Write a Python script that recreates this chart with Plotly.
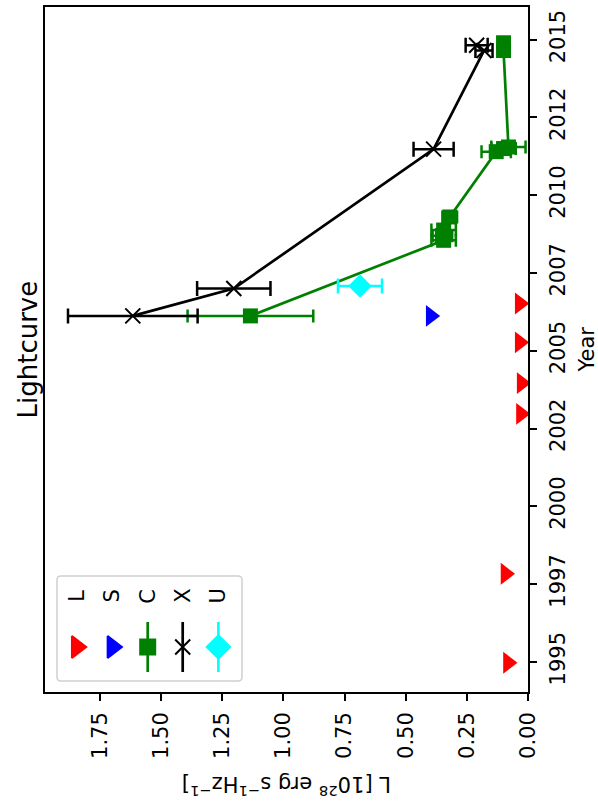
import plotly.graph_objects as go

# ---------------- data ----------------
L_year = [1994.97, 1997.83, 2002.97, 2003.96, 2005.27, 2006.52]
L_val = [0.082, 0.092, 0.029, 0.026, 0.034, 0.034]

S_year = [2006.12]
S_val = [0.398]

C_year = [2006.12, 2008.55, 2008.7, 2008.88, 2009.3, 2011.4, 2011.5, 2011.55, 2014.65, 2014.9]
C_val = [1.135, 0.345, 0.35, 0.345, 0.32, 0.13, 0.10, 0.08, 0.10, 0.10]
C_err = [0.257, 0.05, 0.04, 0.05, 0.03, 0.06, 0.05, 0.07, 0.01, 0.01]

X_year = [2006.12, 2007.0, 2011.48, 2014.65, 2014.82]
X_val = [1.616, 1.203, 0.386, 0.18, 0.21]
X_err = [0.265, 0.15, 0.082, 0.035, 0.045]

U_year = [2007.08]
U_val = [0.687]
U_err = [0.09]

year_ticks = [1995, 1997.5, 2000, 2002.5, 2005, 2007.5, 2010, 2012.5, 2015]
year_labels = ["1995", "1997", "2000", "2002", "2005", "2007", "2010", "2012", "2015"]
L_ticks = [0, 0.25, 0.5, 0.75, 1.0, 1.25, 1.5, 1.75]

legend_names = ["L", "S", "C", "X", "U"]

# ---------------- style ----------------
FONT = "DejaVu Sans"
FS = 21
RED, BLUE, GREEN, BLACK, CYAN = "#ff0000", "#0000ff", "#008000", "#000000", "#00ffff"
LW = 2.7
TRI = 19

fig = go.Figure()

fig.add_trace(go.Scatter(x=L_val, y=L_year, mode="markers",
                         marker=dict(symbol="triangle-right", size=TRI, color=RED),
                         showlegend=False))
fig.add_trace(go.Scatter(x=S_val, y=S_year, mode="markers",
                         marker=dict(symbol="triangle-right", size=TRI, color=BLUE),
                         showlegend=False))
fig.add_trace(go.Scatter(x=C_val, y=C_year, mode="lines+markers",
                         line=dict(color=GREEN, width=LW),
                         marker=dict(symbol="square", size=15, color=GREEN),
                         error_x=dict(type="data", array=C_err, color=GREEN, thickness=2.5, width=6.5),
                         showlegend=False))
fig.add_trace(go.Scatter(x=X_val, y=X_year, mode="lines+markers",
                         line=dict(color=BLACK, width=LW),
                         marker=dict(symbol="x-thin", size=15, color=BLACK,
                                     line=dict(color=BLACK, width=2)),
                         error_x=dict(type="data", array=X_err, color=BLACK, thickness=2.5, width=7.5),
                         showlegend=False))
fig.add_trace(go.Scatter(x=U_val, y=U_year, mode="lines+markers",
                         line=dict(color=CYAN, width=LW),
                         marker=dict(symbol="diamond", size=18, color=CYAN),
                         error_x=dict(type="data", array=U_err, color=CYAN, thickness=2.5, width=7.5),
                         showlegend=False))

# ---------------- hand-built rotated legend (overlay axes, 0..1) ----------------
plot_l, plot_r, plot_t, plot_b = 45, 528, 7, 692
pw, ph = plot_r - plot_l, plot_b - plot_t


def fx(px):
    return (px - plot_l) / pw


def fy(py):
    return (plot_b - py) / ph


leg_cols = [76.7, 112.4, 147.7, 182.7, 218.4]
leg_mark_y = 647
leg_line_top, leg_line_bot = 622, 672
leg_text_y = 596
leg_styles = [
    dict(symbol="triangle-right", size=TRI, color=RED, line=False),
    dict(symbol="triangle-right", size=TRI, color=BLUE, line=False),
    dict(symbol="square", size=15, color=GREEN, line=True),
    dict(symbol="x-thin", size=15, color=BLACK, line=True),
    dict(symbol="diamond", size=18, color=CYAN, line=True),
]
for cx, st in zip(leg_cols, leg_styles):
    if st["line"]:
        fig.add_trace(go.Scatter(x=[fx(cx), fx(cx)], y=[fy(leg_line_top), fy(leg_line_bot)],
                                 mode="lines", line=dict(color=st["color"], width=LW),
                                 xaxis="x2", yaxis="y2", showlegend=False, hoverinfo="skip"))
    fig.add_trace(go.Scatter(x=[fx(cx)], y=[fy(leg_mark_y)], mode="markers",
                             marker=dict(symbol=st["symbol"], size=st["size"], color=st["color"],
                                         line=dict(color=st["color"], width=2)),
                             xaxis="x2", yaxis="y2", showlegend=False, hoverinfo="skip"))

# legend frame (rounded rectangle)
bx0, bx1, by0, by1 = fx(57), fx(242), fy(681), fy(576)
rx, ry = 4 / pw, 4 / ph
path = (f"M{bx0+rx},{by0} L{bx1-rx},{by0} Q{bx1},{by0} {bx1},{by0+ry} "
        f"L{bx1},{by1-ry} Q{bx1},{by1} {bx1-rx},{by1} "
        f"L{bx0+rx},{by1} Q{bx0},{by1} {bx0},{by1-ry} "
        f"L{bx0},{by0+ry} Q{bx0},{by0} {bx0+rx},{by0} Z")
shapes = [dict(type="path", path=path, xref="paper", yref="paper",
               line=dict(color="#d0d0d0", width=1.5), fillcolor="rgba(255,255,255,0.8)",
               layer="below")]

annotations = []
for cx, name in zip(leg_cols, legend_names):
    annotations.append(dict(text=name, x=fx(cx), y=fy(leg_text_y), xref="paper", yref="paper",
                            showarrow=False, textangle=-90, xanchor="center", yanchor="middle",
                            font=dict(family=FONT, size=FS, color="black")))

annotations.append(dict(text="Lightcurve", x=fx(27), y=0.5, xref="paper", yref="paper",
                        showarrow=False, textangle=-90, xanchor="center", yanchor="middle",
                        font=dict(family=FONT, size=26, color="black")))
annotations.append(dict(text="Year", x=fx(586), y=0.5, xref="paper", yref="paper",
                        showarrow=False, textangle=-90, xanchor="center", yanchor="middle",
                        font=dict(family=FONT, size=FS, color="black")))
annotations.append(dict(text="L [10<sup>28</sup> erg s<sup>−1</sup>Hz<sup>−1</sup>]",
                        x=0.5, y=fy(786), xref="paper", yref="paper",
                        showarrow=False, textangle=180, xanchor="center", yanchor="middle",
                        font=dict(family=FONT, size=FS, color="black")))

fig.update_layout(
    width=598, height=812,
    margin=dict(l=plot_l, r=598 - plot_r, t=plot_t, b=812 - plot_b, autoexpand=False),
    paper_bgcolor="white", plot_bgcolor="white",
    showlegend=False,
    font=dict(family=FONT, size=FS, color="black"),
    xaxis=dict(range=[1.975, 0], tickvals=L_ticks, tickformat=".2f", tickangle=-90,
               showgrid=False, zeroline=False, showline=True, linecolor="black", linewidth=1.5,
               mirror=True, ticks="outside", ticklen=7, tickwidth=1.5, tickcolor="black",
               ticklabelstandoff=3, automargin=False, tickfont=dict(family=FONT, size=FS)),
    yaxis=dict(range=[1994.03, 2016.05], side="right", tickvals=year_ticks, ticktext=year_labels,
               tickangle=-90, showgrid=False, zeroline=False, showline=True, linecolor="black",
               linewidth=1.5, mirror=True, ticks="outside", ticklen=7, tickwidth=1.5,
               tickcolor="black", ticklabelstandoff=3, automargin=False,
               tickfont=dict(family=FONT, size=FS)),
    xaxis2=dict(range=[0, 1], overlaying="x", visible=False, fixedrange=True, automargin=False),
    yaxis2=dict(range=[0, 1], overlaying="y", visible=False, fixedrange=True, automargin=False),
    shapes=shapes,
    annotations=annotations,
)

fig.write_html("out.html", config={"displayModeBar": False},
               post_script="document.body.style.margin='0';")
